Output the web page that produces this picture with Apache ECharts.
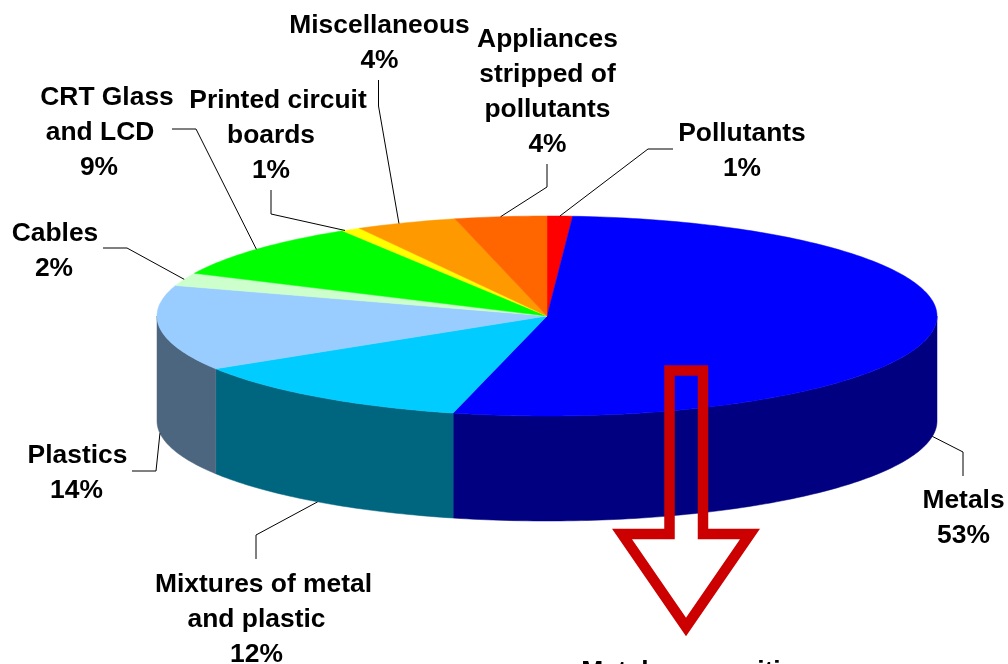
<!DOCTYPE html>
<html>
<head>
<meta charset="utf-8">
<style>html,body{margin:0;padding:0;background:#fff;overflow:hidden}#chart{width:1008px;height:664px}</style>
<script src="https://cdn.jsdelivr.net/npm/echarts@6/dist/echarts.min.js"></script>
</head>
<body>
<div id="chart"></div>
<script>
// Data, clockwise from twelve o'clock
const categories = ['Pollutants', 'Metals', 'Mixtures of metal and plastic', 'Plastics', 'Cables', 'CRT Glass and LCD', 'Printed circuit boards', 'Miscellaneous', 'Appliances stripped of pollutants'];
const shareValues = [1.05, 52.9, 12.3, 13.8, 2.1, 9.2, 0.8, 4.2, 3.8];
const labelLines = [['Pollutants'], ['Metals'], ['Mixtures of metal', 'and plastic'], ['Plastics'], ['Cables'], ['CRT Glass', 'and LCD'], ['Printed circuit', 'boards'], ['Miscellaneous'], ['Appliances', 'stripped of', 'pollutants']];
const topColors = ['#FF0000', '#0000FF', '#00CCFF', '#99CCFF', '#CCFFCC', '#00FF00', '#FFFF00', '#FF9900', '#FF6600'];
const wallColors = ['#800000', '#000080', '#006680', '#4D6680', '#668066', '#008000', '#808000', '#804D00', '#803300'];
const annotationTitle = 'Metal composition';

// Layout
const pie = { cx: 547, cy: 316, rx: 390, ry: 100, depth: 105 };
const font = { size: 26.4, lineHeight: 35 };
// label centre per line [x...], first line y, leader elbow and end, leader anchor shift in degrees
const labelLayout = [
  { xs: [742, 742], y: 134, elbow: [648, 149], end: [673, 149], shift: 0 },
  { xs: [963.5, 963.5], y: 501, elbow: [963, 452], end: [963, 476], shift: 0 },
  { xs: [263.5, 256.5, 256.5], y: 585, elbow: [256, 535], end: [256, 559], shift: 0 },
  { xs: [77.5, 76.5], y: 456, elbow: [156, 471], end: [132, 471], shift: 0 },
  { xs: [55, 54], y: 234, elbow: [127, 248], end: [103, 248], shift: 0 },
  { xs: [107, 100, 99], y: 98, elbow: [196, 129], end: [172, 129], shift: 0 },
  { xs: [278, 271, 271], y: 101, elbow: [271, 214], end: [271, 190], shift: -1 },
  { xs: [379.5, 379.5], y: 26, elbow: [378.5, 106], end: [378.5, 80], shift: -1.1 },
  { xs: [547.5, 547.5, 547.5, 547.5], y: 40, elbow: [547, 187], end: [547, 164], shift: 0 }
];

const total = shareValues.reduce((a, b) => a + b, 0);
function edge(t, drop) {
  return [pie.cx + pie.rx * Math.sin(t), pie.cy - pie.ry * Math.cos(t) + (drop || 0)];
}
function arcPoints(a, b, drop) {
  const pts = [], n = Math.max(2, Math.ceil((b - a) / (Math.PI / 180)));
  for (let i = 0; i <= n; i++) pts.push(edge(a + (b - a) * i / n, drop));
  return pts;
}
function txt(text, x, y) {
  return {
    type: 'text', z2: 20,
    style: { text, x, y, align: 'center', verticalAlign: 'middle', fill: '#000',
      font: 'bold ' + font.size + 'px "Liberation Sans", Arial, sans-serif' }
  };
}
function renderSlice(params, api) {
  const i = params.dataIndex;
  const value = api.value(0);
  let before = 0;
  for (let k = 0; k < i; k++) before += shareValues[k];
  const a = before / total * 2 * Math.PI;
  const b = (before + value) / total * 2 * Math.PI;
  const children = [];

  // visible wall: the part of the slice on the front half of the ellipse
  const wa = Math.max(a, Math.PI / 2), wb = Math.min(b, 3 * Math.PI / 2);
  if (wb > wa) {
    const pts = arcPoints(wa, wb, 0).concat(arcPoints(wa, wb, pie.depth).reverse());
    children.push({
      type: 'polygon', shape: { points: pts },
      style: { fill: wallColors[i], stroke: wallColors[i], lineWidth: 0.5 }
    });
  }
  // top face
  children.push({
    type: 'polygon', z2: 5,
    shape: { points: [[pie.cx, pie.cy]].concat(arcPoints(a, b, 0)) },
    style: { fill: topColors[i], stroke: topColors[i], lineWidth: 0.5 }
  });
  // leader line from the slice's mid angle
  const lay = labelLayout[i];
  const mid = (a + b) / 2 + lay.shift * Math.PI / 180;
  const front = Math.cos(mid) < 0;
  children.push({
    type: 'polyline', z2: 10,
    shape: { points: [edge(mid, front ? pie.depth : 0), lay.elbow, lay.end] },
    style: { fill: null, stroke: '#000', lineWidth: 1 }
  });
  // label
  const lines = labelLines[i].concat([Math.round(value) + '%']);
  lines.forEach((line, k) => children.push(txt(line, lay.xs[k], lay.y + k * font.lineHeight)));
  return { type: 'group', children };
}

const chart = echarts.init(document.getElementById('chart'), null, { renderer: 'canvas', width: 1008, height: 664 });
chart.setOption({
  backgroundColor: '#FFFFFF',
  animation: false,
  series: [{
    type: 'custom',
    coordinateSystem: 'none',
    name: 'Composition',
    data: shareValues.map((v, i) => ({ name: categories[i], value: [v] })),
    renderItem: renderSlice,
    silent: true,
    z: 2
  }],
  graphic: [
    {
      type: 'polygon', z: 50,
      shape: { points: [[669.5, 370.5], [703, 370.5], [703, 534], [750, 534], [686, 627], [622, 534], [669.5, 534]] },
      style: { fill: 'rgba(0,0,0,0)', stroke: '#CC0000', lineWidth: 10.5, lineJoin: 'miter', miterLimit: 10 }
    },
    {
      type: 'text', z: 50,
      style: { text: annotationTitle, x: 697, y: 671.5, align: 'center', verticalAlign: 'middle', fill: '#000',
        font: 'bold ' + font.size + 'px "Liberation Sans", Arial, sans-serif' }
    }
  ]
});
</script>
</body>
</html>
